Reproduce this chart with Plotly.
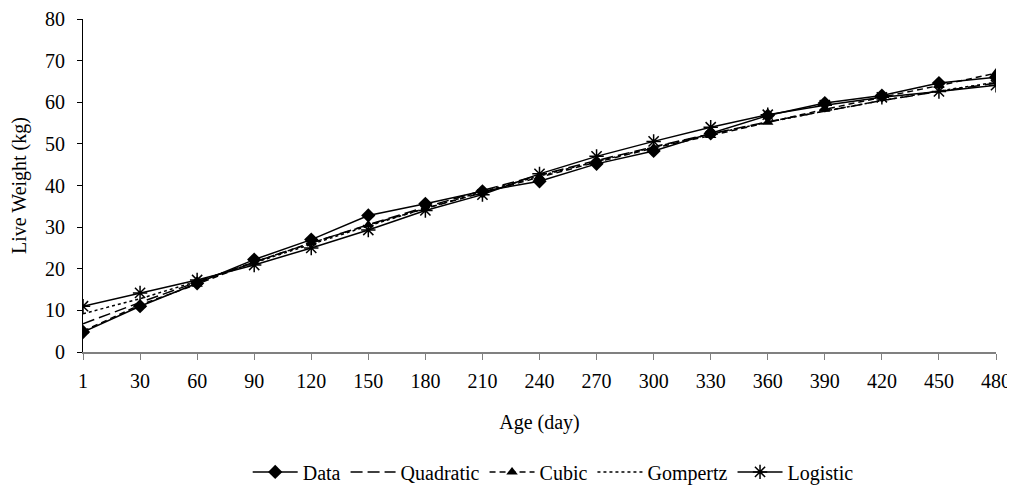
import plotly.graph_objects as go

ages = ["1", "30", "60", "90", "120", "150", "180", "210", "240", "270", "300",
        "330", "360", "390", "420", "450", "480"]
data_w = [4.8, 11.0, 16.5, 22.2, 27.0, 32.8, 35.6, 38.6, 41.0, 45.2, 48.3,
          52.5, 56.8, 59.8, 61.6, 64.6, 66.0]
quadratic = [6.8, 11.9, 16.8, 21.6, 26.2, 30.6, 34.8, 38.8, 42.5, 46.0, 49.3,
             52.4, 55.3, 57.9, 60.4, 62.6, 64.6]
cubic = [5.0, 11.3, 16.3, 21.6, 26.2, 30.5, 34.5, 38.3, 42.0, 45.6, 49.0,
         52.0, 55.2, 58.3, 61.2, 64.0, 67.0]
gompertz = [9.2, 12.8, 17.0, 21.4, 25.9, 30.3, 34.5, 38.5, 42.3, 45.8, 49.2,
            52.3, 55.2, 57.9, 60.4, 62.7, 64.8]
logistic = [11.0, 14.2, 17.3, 20.9, 25.0, 29.3, 34.0, 37.8, 42.8, 47.0, 50.6,
            54.0, 57.0, 59.3, 61.2, 62.6, 64.1]
y_ticks = [0, 10, 20, 30, 40, 50, 60, 70, 80]

xi = list(range(len(ages)))
FONT = "Liberation Serif, Times New Roman, serif"
FS = 20

fig = go.Figure()
fig.add_trace(go.Scatter(x=xi, y=data_w, name="Data", mode="lines+markers",
                         line=dict(color="black", width=1.5),
                         marker=dict(symbol="diamond", size=11, color="black")))
fig.add_trace(go.Scatter(x=xi, y=quadratic, name="Quadratic", mode="lines",
                         line=dict(color="black", width=1.5, dash="12px,5px")))
fig.add_trace(go.Scatter(x=xi, y=cubic, name="Cubic", mode="lines+markers",
                         line=dict(color="black", width=1.5, dash="6px,4px"),
                         marker=dict(symbol="triangle-up", size=10, color="black")))
fig.add_trace(go.Scatter(x=xi, y=gompertz, name="Gompertz", mode="lines",
                         line=dict(color="black", width=1.5, dash="3px,3px")))
fig.add_trace(go.Scatter(x=xi, y=logistic, name="Logistic", mode="lines+markers",
                         line=dict(color="black", width=1.5),
                         marker=dict(symbol="asterisk-open", size=12,
                                     line=dict(color="black", width=1.5))))

# page body has an 8px margin, so the figure is sized to fit the window
fig.update_layout(
    width=1007, height=492,
    margin=dict(l=75, r=19, t=11, b=148, autoexpand=False),
    paper_bgcolor="white", plot_bgcolor="white",
    font=dict(family=FONT, size=FS, color="black"),
    showlegend=True,
    legend=dict(orientation="h", x=0.515, xanchor="center", y=-0.36, yanchor="middle",
                itemwidth=45,
                font=dict(family=FONT, size=FS, color="black")),
    xaxis=dict(range=[0, 16], tickmode="array", tickvals=xi, ticktext=ages,
               showgrid=False, zeroline=False, showline=True, linecolor="#808080",
               linewidth=1.5, ticks="outside", ticklen=6, tickcolor="#808080",
               ticklabelstandoff=4,
               title=dict(text="Age (day)", standoff=24,
                          font=dict(family=FONT, size=FS))),
    yaxis=dict(range=[0, 80], tickmode="array", tickvals=y_ticks,
               showgrid=False, zeroline=False, showline=True, linecolor="black",
               linewidth=1.2, ticks="outside", ticklen=5, tickcolor="black",
               ticklabelstandoff=8,
               title=dict(text="Live Weight (kg)", standoff=12,
                          font=dict(family=FONT, size=FS))),
)

fig.write_html("out.html")
